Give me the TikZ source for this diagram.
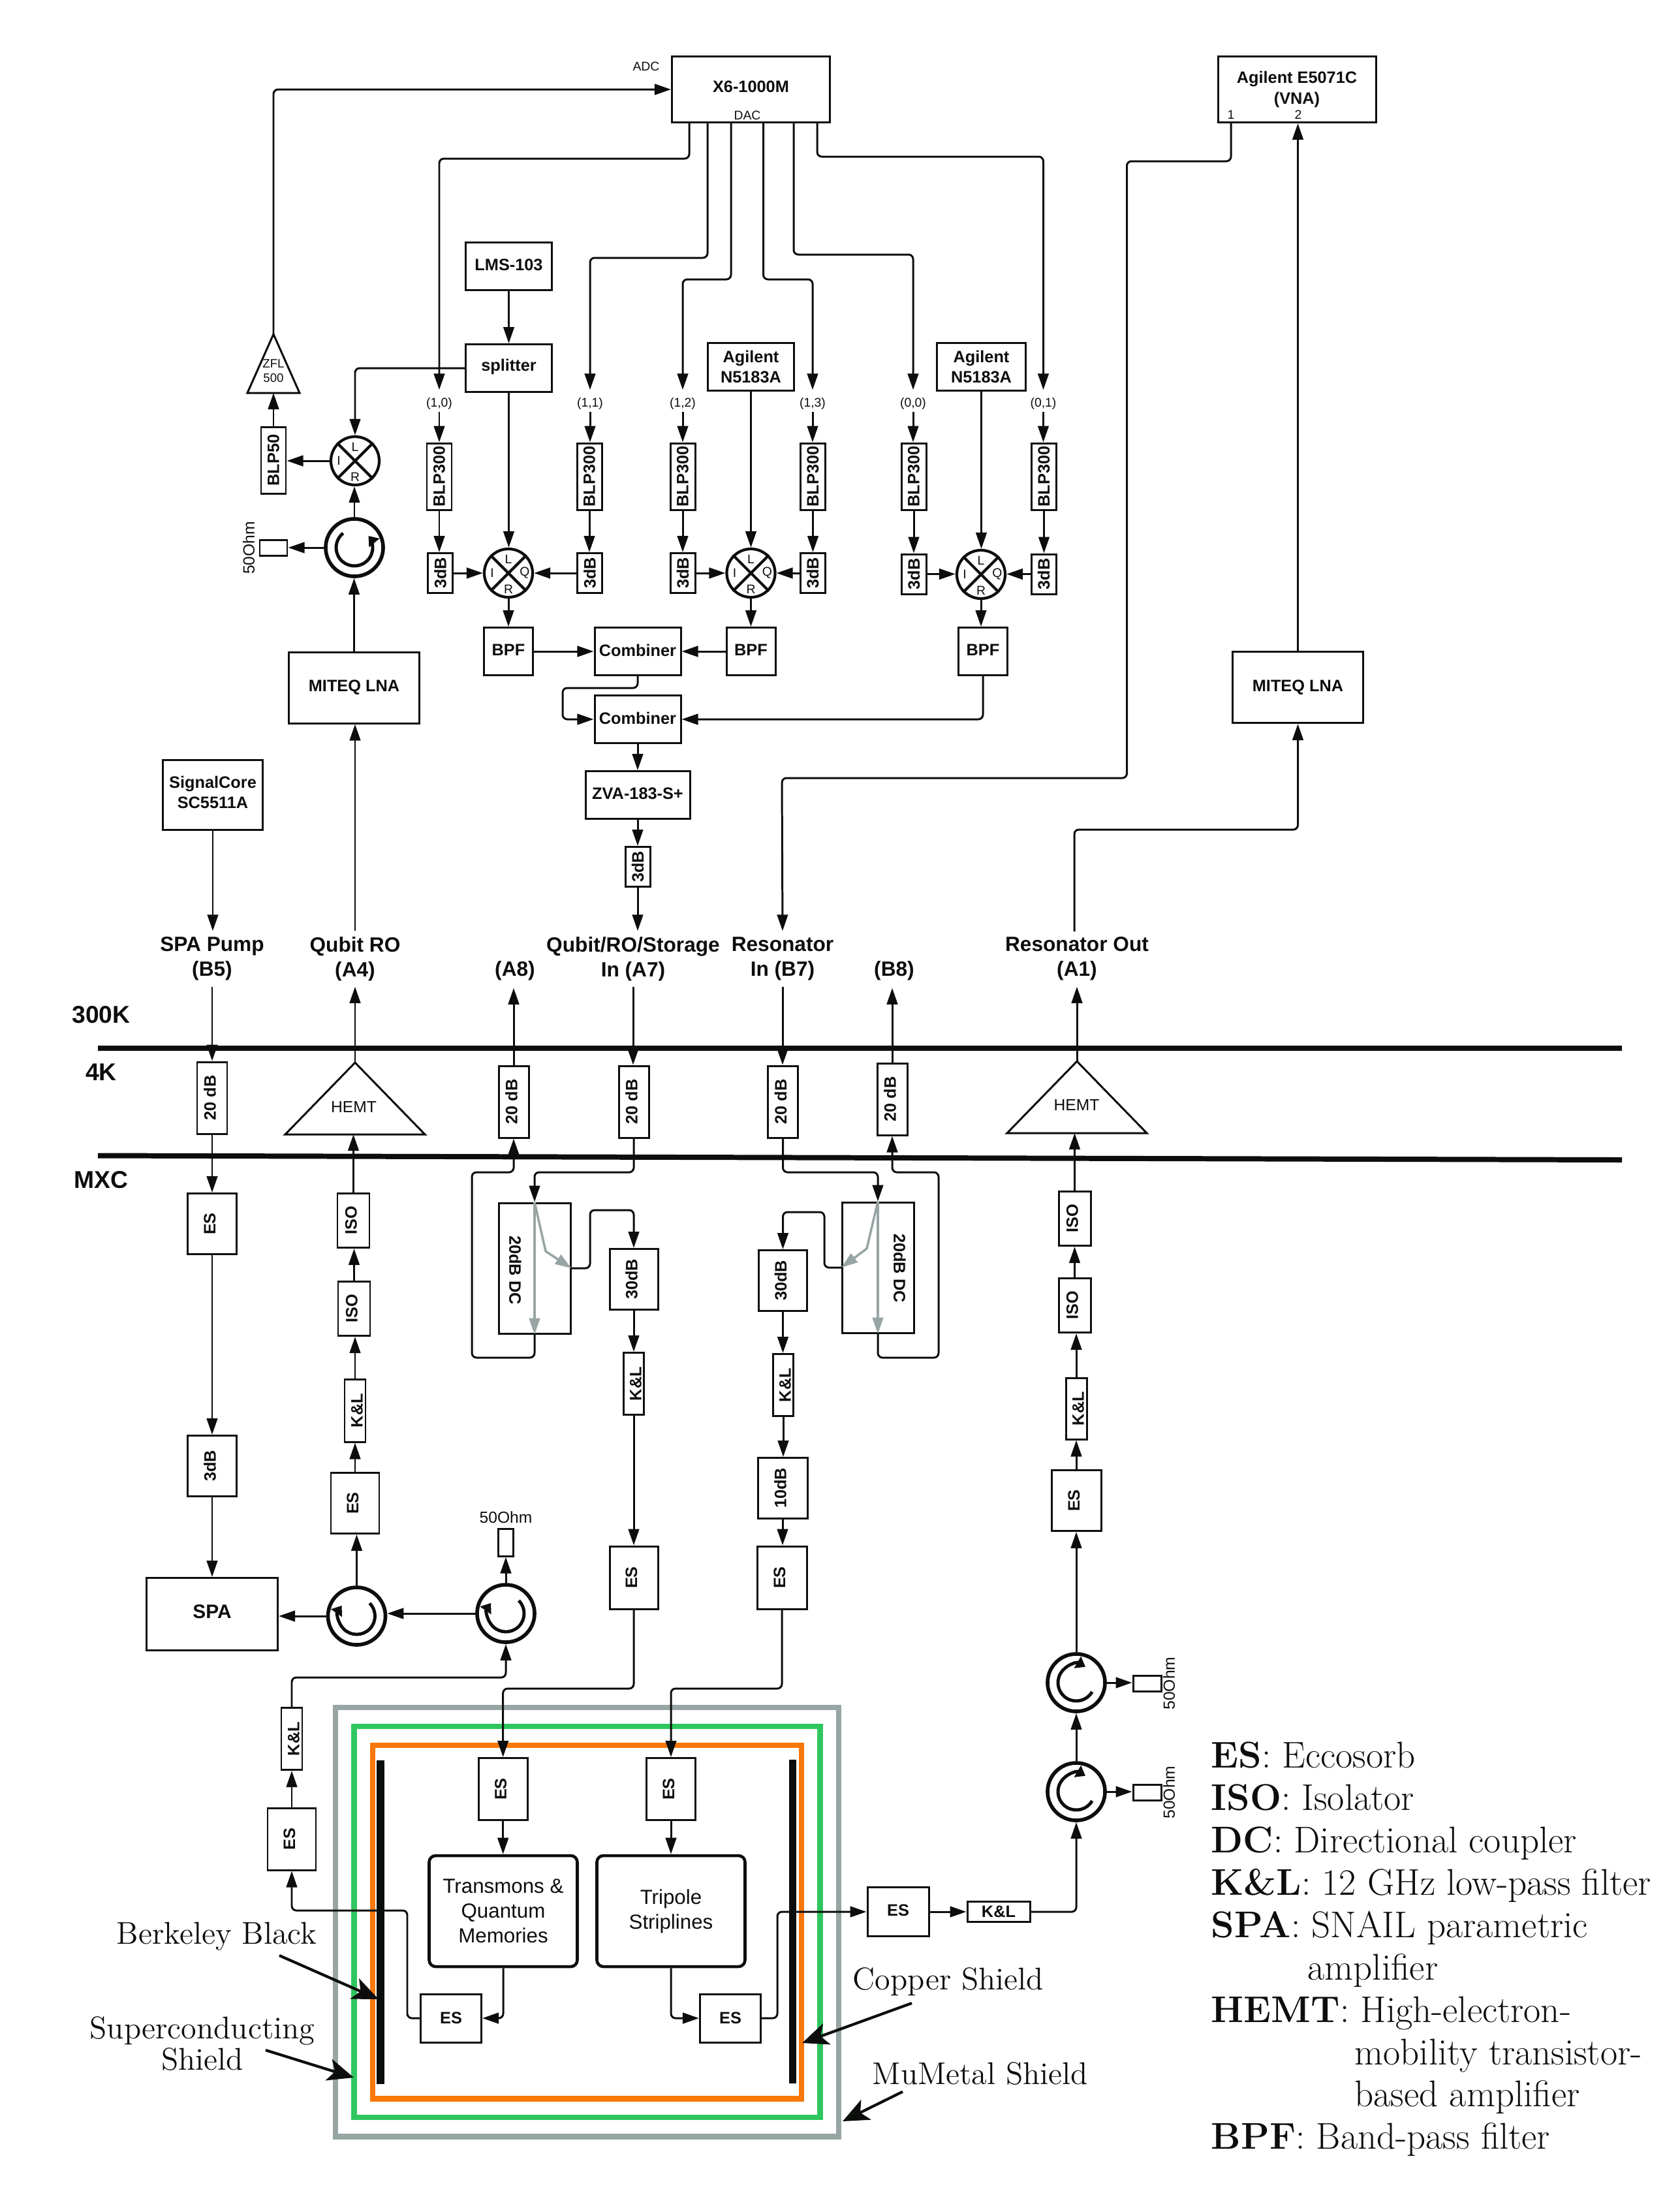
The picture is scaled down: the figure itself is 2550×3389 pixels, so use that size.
\documentclass[tikz,border=0pt]{standalone}
\usepackage{fontspec}
\usepackage{graphicx}
\usetikzlibrary{arrows.meta}
\newfontfamily\libsf{Liberation Sans}
\definecolor{ink}{HTML}{0C0E0C}
\definecolor{shieldgray}{HTML}{97A5A4}
\definecolor{shieldgreen}{HTML}{2FC65F}
\definecolor{shieldorange}{HTML}{F9780A}
\tikzset{
  x=0.01cm, y=-0.01cm,
  sz/.style n args={2}{minimum width=#1*0.01cm, minimum height=#2*0.01cm},
  box/.style={draw=ink, line width=0.85pt, inner sep=0pt, text=ink,
    font=\fontsize{7.2}{8.9}\selectfont\libsf\bfseries, align=center},
  boxlabel/.style={inner sep=0pt, text=ink, font=\fontsize{7.2}{8.9}\selectfont\libsf\bfseries},
  bigbox/.style={box, font=\fontsize{8.5}{10}\selectfont\libsf\bfseries},
  device/.style={draw=ink, line width=1.3pt, rounded corners=0.1cm, inner sep=0pt, text=ink,
    font=\fontsize{8.9}{10.8}\selectfont\libsf, align=center},
  tag/.style={inner sep=0pt, text=ink, font=\fontsize{5.5}{6.4}\selectfont\libsf, align=center},
  mid/.style={inner sep=0pt, text=ink, font=\fontsize{7}{8.5}\selectfont\libsf},
  linelabel/.style={inner sep=0pt, text=ink, align=center,
    font=\fontsize{9}{10.7}\selectfont\libsf\bfseries},
  stage/.style={inner sep=0pt, text=ink, font=\fontsize{10.6}{12}\selectfont\libsf\bfseries},
  note/.style={inner sep=0pt, text=ink, align=center, font=\fontsize{13.7}{13.7}\selectfont},
  legend/.style={inner sep=0pt, anchor=base west, text=ink, font=\fontsize{16.2}{18}\selectfont},
  wire/.style={draw=ink, line width=0.85pt},
  arr/.style={wire, -{Triangle[length=0.25cm, width=0.165cm]}},
  turn/.style={rounded corners=0.07cm},
  coupled/.style={draw=shieldgray, line width=1pt, -{Triangle[length=0.25cm, width=0.165cm]}},
  tri/.style={draw=ink, line width=0.85pt, line join=miter},
  mixer/.style={circle, draw=ink, line width=1.2pt, minimum size=0.74cm, inner sep=0pt},
  mixstroke/.style={draw=ink, line width=1.2pt},
  circulator/.style={circle, draw=ink, line width=1.6pt, minimum size=0.88cm, inner sep=0pt},
  swirl/.style={draw=ink, line width=1.4pt, -{Triangle[length=0.14cm, width=0.2cm]}},
  rail/.style={draw=ink, line width=2.27pt},
  shield/.style={line width=2.3pt, line join=miter},
  absorber/.style={draw=ink, line width=3.2pt},
  pointer/.style={draw=ink, line width=1.2pt,
    -{Stealth[length=0.4cm, width=0.34cm, inset=0.1cm]}}
}
% straight links that keep the source's line and stop on the target's edge
\newcommand\lnkD[2]{\draw[arr] (#1.south) -- (#1.south |- #2.north);}
\newcommand\lnkU[2]{\draw[arr] (#1.north) -- (#1.north |- #2.south);}
\newcommand\lnkR[2]{\draw[arr] (#1.east) -- (#1.east -| #2.west);}
\newcommand\lnkL[2]{\draw[arr] (#1.west) -- (#1.west -| #2.east);}
% sideways box text, nudged left or right of the box centre
\newcommand\vlf[1]{\mbox{\rotatebox{90}{#1}\kern0.07cm}}
\newcommand\vrg[1]{\mbox{\kern0.06cm\rotatebox{90}{#1}}}
% added depth lifts a label inside its box
\newcommand\lift[1]{\rule[-#1]{0pt}{0pt}}
% mixer: name, x, y, then the optional Q port label
\newcommand\mixerat[4]{%
  \node[mixer] (#1) at (#2,#3) {};
  \draw[mixstroke] (#1.north west) -- (#1.south east);
  \draw[mixstroke] (#1.north east) -- (#1.south west);
  \node[tag] (#1L) at (#2,#3-21) {L};
  \node[tag] (#1I) at (#2-25,#3) {I};
  \node[tag] (#1R) at (#2,#3+25) {R};
  \node[tag] (#1Q) at (#2+25,#3) {#4};
}
% circulator: name, x, y, start and end angle of the inner arrow
\newcommand\circat[5]{%
  \node[circulator] (#1) at (#2,#3) {};
  \draw[swirl] (#1.center) ++(#4:0.28cm) arc[start angle=#4, end angle=#5, radius=0.28cm];
}
% amplifier triangle: name, apex x, apex y, half width, height
\newcommand\ampat[5]{%
  \coordinate (#1top) at (#2,#3);
  \coordinate (#1base) at (#2,#3+#5);
  \draw[tri] (#2,#3) -- (#2+#4,#3+#5) -- (#2-#4,#3+#5) -- cycle;
}
\begin{document}
\begin{tikzpicture}
\path[use as bounding box, fill=white] (0,0) rectangle (2550,3389);

% --- room temperature instruments ---
\node[box, sz={242}{101}] (x6) at (1150.5,137) {X6-1000M\lift{0.08cm}};
\node[tag] (adc) at (990,102) {ADC};
\node[tag] (dac) at (1145,177) {DAC};
\node[box, sz={242}{101}] (vna) at (1987,137) {Agilent E5071C\\(VNA)};
\node[tag] (vnaa) at (1886,176) {1};
\node[tag] (vnab) at (1989,176) {2};
\coordinate (p10) at (1056,189);
\coordinate (p11) at (1084,189);
\coordinate (p12) at (1120,189);
\coordinate (p13) at (1169.5,189);
\coordinate (p00) at (1216,189);
\coordinate (p01) at (1252,189);
\coordinate (vna1) at (1886,189);

\node[box, sz={132}{73}] (lms) at (779.5,408) {LMS-103\lift{0.04cm}};
\node[box, sz={132}{73}] (split) at (779.5,564) {splitter\lift{0.09cm}};
\node[box, sz={132}{73}] (agi1) at (1150.5,562) {Agilent\\N5183A};
\node[box, sz={136}{73}] (agi2) at (1503.5,562) {Agilent\\N5183A};

% --- channel labels ---
\foreach \n/\x/\t in {lab10/673/{(1,0)},lab11/904/{(1,1)},lab12/1046/{(1,2)},lab13/1245/{(1,3)},lab00/1399/{(0,0)},lab01/1598.5/{(0,1)}}
  \node[tag, minimum height=0.32cm] (\n) at (\x,614) {\rule{0pt}{6.3pt}\t};

% --- baseband filters and attenuators ---
\foreach \n/\x in {bl10/673,bl11/903,bl12/1046,bl13/1245.5,bl00/1400,bl01/1599.5}
  \node[box, sz={38}{102}] (\n) at (\x,730) {\rotatebox{90}{BLP300}};
\foreach \n/\x/\y in {d10/674.5/878,d11/903.5/878,d12/1046/878,d13/1245/878,d00/1400/879.5,d01/1599/879.5}
  \node[box, sz={38}{61}] (\n) at (\x,\y) {\rotatebox{90}{3dB}};

\mixerat{mx1}{779}{878}{Q}
\mixerat{mx2}{1150.5}{878}{Q}
\mixerat{mx3}{1503}{880}{Q}

\node[box, sz={75}{73}] (bpf1) at (779,998) {BPF\lift{0.04cm}};
\node[box, sz={75}{73}] (bpf2) at (1150.5,998) {BPF\lift{0.04cm}};
\node[box, sz={75}{73}] (bpf3) at (1506,998) {BPF\lift{0.04cm}};
\node[box, sz={132}{73}] (comb1) at (977,998) {Combiner\lift{0.04cm}};
\node[box, sz={132}{73}] (comb2) at (977,1102) {Combiner\lift{0.04cm}};
\node[box, sz={160}{73}] (zva) at (977,1218) {ZVA-183-S+\lift{0.04cm}};
\node[box, sz={38}{61}] (d20) at (977,1328) {\rotatebox{90}{3dB}};

% --- qubit readout chain at room temperature ---
\ampat{zfl}{419}{512}{40}{90}
\node[tag, font=\fontsize{5.3}{6.4}\selectfont\libsf] (zflt) at (419,568) {ZFL\\500};
\node[box, sz={38}{102}] (b50) at (419,705) {\rotatebox{90}{BLP50}};
\mixerat{mx0}{544}{706}{}
\circat{c0}{543}{839}{128}{400}
\node[draw=ink, line width=0.85pt, sz={42}{17}] (t0) at (419,839.5) {};
\node[mid] (t0t) at (381,839.5) {\rotatebox{90}{50Ohm}};
\node[box, sz={200}{109}] (mitel) at (542.5,1053.5) {MITEQ LNA};
\node[box, sz={200}{109}] (miter) at (1988.5,1053) {MITEQ LNA};
\node[box, sz={153}{107}] (sig) at (326,1218) {SignalCore\\SC5511A\lift{0.08cm}};

% --- fridge port labels ---
\node[linelabel, minimum height=0.84cm] (lb5) at (325,1469) {SPA Pump\\(B5)};
\node[linelabel, minimum height=0.84cm] (la4) at (544,1469) {Qubit RO\\(A4)};
\node[linelabel, minimum height=0.52cm] (la8) at (789,1487) {(A8)};
\node[linelabel, minimum height=0.84cm] (la7) at (970,1469) {Qubit/RO/Storage\\In (A7)};
\node[linelabel, minimum height=0.84cm] (lb7) at (1199,1469) {Resonator\\In (B7)};
\node[linelabel, minimum height=0.52cm] (lb8) at (1370,1487) {(B8)};
\node[linelabel, minimum height=0.84cm] (la1) at (1650,1469) {Resonator Out\\(A1)};
\coordinate (la1out) at (1646,1427);

\node[stage] (t300) at (155,1555) {300K};
\node[stage] (t4) at (155,1643) {4K};
\node[stage] (tmxc) at (155,1808) {MXC};
\coordinate (r1a) at (150,1605.5);
\coordinate (r1b) at (2485,1605.5);
\coordinate (r2a) at (150,1770.5);
\coordinate (r2b) at (2485,1777);

% --- 4K stage ---
\node[box, sz={46}{110}] (at5) at (325,1682) {\vlf{20 dB}};
\ampat{he1}{544}{1628}{107}{110}
\node[mid] (he1t) at (542,1696) {HEMT};
\node[box, sz={46}{110}] (at8) at (787,1688) {\vlf{20 dB}};
\node[box, sz={46}{110}] (at7) at (971,1688) {\vlf{20 dB}};
\node[box, sz={46}{110}] (atb7) at (1199.5,1688) {\vlf{20 dB}};
\node[box, sz={46}{110}] (atb8) at (1367,1684) {\vlf{20 dB}};
\ampat{he2}{1650}{1626}{107}{110}
\node[mid] (he2t) at (1649.5,1693) {HEMT};

% --- pump line and SPA ---
\node[box, sz={75}{93}] (es1) at (325,1875) {\vlf{ES}};
\node[box, sz={75}{93}] (d3) at (325,2246) {\vlf{3dB}};
\node[bigbox, sz={201}{111}] (spa) at (325,2473) {SPA\lift{0.08cm}};

% --- qubit readout output chain ---
\node[box, sz={49}{83}] (isoa) at (541.5,1870) {\vlf{ISO}};
\node[box, sz={49}{83}] (isob) at (542.5,2005) {\vlf{ISO}};
\node[box, sz={32}{96}] (klq) at (544,2161) {\vrg{K\&L}};
\node[box, sz={74}{93}] (esq) at (544,2303) {\vlf{ES}};
\circat{c1}{546.5}{2476}{45}{-215}
\circat{c2}{775}{2472}{45}{-215}
\node[draw=ink, line width=0.85pt, sz={18}{42}] (t2) at (775,2363) {};
\node[mid] (t2t) at (775,2324.5) {50Ohm};

% --- directional couplers and input lines ---
\node[box, sz={110}{200}] (dc1) at (819,1943) {};
\node[boxlabel] (dc1t) at (789.4,1946) {\rotatebox{-90}{20dB DC}};
\coordinate (dc1c) at (875.5,1943);
\node[box, sz={110}{200}] (dc2) at (1345,1942) {};
\node[boxlabel] (dc2t) at (1378.4,1943) {\rotatebox{-90}{20dB DC}};
\coordinate (dc2c) at (1289,1942);
\node[box, sz={74}{93}] (a30) at (971,1960) {\vlf{30dB}};
\node[box, sz={31}{95}] (kl7) at (971,2120) {\vrg{K\&L}};
\node[box, sz={74}{96}] (es7) at (971,2417) {\vlf{ES}};
\node[box, sz={74}{93}] (b30) at (1199.5,1962) {\vlf{30dB}};
\node[box, sz={31}{95}] (kl8) at (1200,2122) {\vrg{K\&L}};
\node[box, sz={76}{93}] (d10b) at (1199,2280) {\vlf{10dB}};
\node[box, sz={76}{96}] (es8) at (1198,2417) {\vlf{ES}};

% --- nested shields ---
\draw[shield, draw=shieldgray] (514,2616) rectangle (1285,3273.5);
\draw[shield, draw=shieldgreen] (542.5,2645) rectangle (1256.5,3244);
\draw[shield, draw=shieldorange] (571,2674) rectangle (1228,3215.5);
\draw[absorber] (583,2697) -- (583,3193);
\draw[absorber] (1214.5,2696) -- (1214.5,3192);

% --- devices inside the shields ---
\node[box, sz={75}{95}] (esi1) at (770.7,2741) {\vlf{ES}};
\node[box, sz={75}{95}] (esi2) at (1028,2741) {\vlf{ES}};
\node[device, sz={227}{170}] (trans) at (771,2928) {Transmons \&\\Quantum\\Memories};
\node[device, sz={227}{170}] (strip) at (1028,2928) {Tripole\\Striplines};
\node[box, sz={93}{74}] (eso1) at (691,3092) {ES};
\node[box, sz={93}{74}] (eso2) at (1119,3092) {ES};
\node[box, sz={74}{95}] (esl) at (447,2817.5) {\vlf{ES}};
\node[box, sz={32}{95}] (kll) at (447,2664) {\vrg{K\&L}};

% --- resonator output chain ---
\node[box, sz={94}{75}] (esr1) at (1376,2929) {ES\lift{0.04cm}};
\node[box, sz={96}{31}] (klr) at (1530,2929) {K\&L};
\circat{c4}{1649}{2745}{-30}{-300}
\circat{c3}{1649}{2578}{-30}{-300}
\node[draw=ink, line width=0.85pt, sz={43}{18}] (t4e) at (1757.5,2746.5) {};
\node[draw=ink, line width=0.85pt, sz={43}{18}] (t3e) at (1757.5,2579.5) {};
\node[mid] (t3t) at (1791,2579) {\rotatebox{90}{50Ohm}};
\node[mid] (t4t) at (1791,2746) {\rotatebox{90}{50Ohm}};
\node[box, sz={76}{93}] (esr2) at (1649,2299) {\vlf{ES}};
\node[box, sz={32}{94}] (klr2) at (1649,2158) {\vrg{K\&L}};
\node[box, sz={49}{83}] (isoc) at (1646.5,2000) {\vlf{ISO}};
\node[box, sz={49}{83}] (isod) at (1646.5,1867) {\vlf{ISO}};

% --- stage rails ---
\draw[rail] (r1a) -- (r1b);
\draw[rail] (r2a) -- (r2b);

% --- room temperature wiring ---
\draw[arr, turn] (zfltop) -- (419,137) -- (x6.west);
\draw[arr, turn] (p10) -- (1056,243) -- (673,243) -- (lab10.north);
\draw[arr, turn] (p11) -- (1084,395) -- (904,395) -- (lab11.north);
\draw[arr, turn] (p12) -- (1120,428) -- (1046,428) -- (lab12.north);
\draw[arr, turn] (p13) -- (1169.5,428) -- (1245,428) -- (lab13.north);
\draw[arr, turn] (p00) -- (1216,390) -- (1399,390) -- (lab00.north);
\draw[arr, turn] (p01) -- (1252,240) -- (1598.5,240) -- (lab01.north);
\foreach \a/\b/\c in {lab10/bl10/d10,lab11/bl11/d11,lab12/bl12/d12,lab13/bl13/d13,lab00/bl00/d00,lab01/bl01/d01} {
  \lnkD{\a}{\b}
  \lnkD{\b}{\c}
}
\lnkR{d10}{mx1} \lnkL{d11}{mx1}
\lnkR{d12}{mx2} \lnkL{d13}{mx2}
\lnkR{d00}{mx3} \lnkL{d01}{mx3}
\lnkD{lms}{split}
\lnkD{split}{mx1}
\lnkD{agi1}{mx2}
\lnkD{agi2}{mx3}
\lnkD{mx1}{bpf1} \lnkD{mx2}{bpf2} \lnkD{mx3}{bpf3}
\lnkR{bpf1}{comb1} \lnkL{bpf2}{comb1}
\draw[arr, turn] (comb1.south) -- (977,1054) -- (862,1054) -- (862,1102) -- (comb2.west);
\draw[arr, turn] (bpf3.south) -- (1506,1102) -- (comb2.east);
\lnkD{comb2}{zva} \lnkD{zva}{d20} \lnkD{d20}{la7}
\draw[arr, turn] (split.west) -- (544,564) -- (mx0.north);
\lnkL{mx0}{b50}
\draw[arr] (b50.north) -- (zflbase);
\lnkU{c0}{mx0}
\lnkL{c0}{t0}
\lnkU{mitel}{c0}
\lnkU{la4}{mitel}
\lnkD{sig}{lb5}
\draw[arr, turn] (vna1) -- (1886,247) -- (1726.5,247) -- (1726.5,1192) -- (1198,1192) -- (lb7.north);
\draw[arr, turn] (la1out) -- (1646,1271) -- (1988.5,1271) -- (miter.south);
\lnkU{miter}{vna}

% --- fridge wiring, left side ---
\lnkD{lb5}{at5} \lnkD{at5}{es1} \lnkD{es1}{d3} \lnkD{d3}{spa}
\draw[arr] (he1top) -- (he1top |- la4.south);
\draw[arr] (isoa.north) -- (isoa.north |- he1base);
\lnkU{isob}{isoa} \lnkU{klq}{isob} \lnkU{esq}{klq} \lnkU{c1}{esq}
\lnkL{c1}{spa} \lnkL{c2}{c1} \lnkU{c2}{t2}

% --- fridge wiring, couplers ---
\lnkU{at8}{la8}
\draw[arr, turn] (dc1.south) -- (819,2080) -- (723,2080) -- (723,1796) -- (787,1796) -- (at8.south);
\lnkD{la7}{at7}
\draw[arr, turn] (at7.south) -- (971,1796) -- (819,1796) -- (dc1.north);
\draw[coupled] (dc1.north) -- (dc1.south);
\draw[coupled] (dc1.north) -- (836,1917) -- (dc1c);
\draw[arr, turn] (dc1c) -- (904,1943) -- (904,1854) -- (971,1854) -- (a30.north);
\lnkD{a30}{kl7} \lnkD{kl7}{es7}

\lnkD{lb7}{atb7}
\lnkU{atb8}{lb8}
\draw[arr, turn] (atb7.south) -- (1199.5,1796) -- (1345,1796) -- (dc2.north);
\draw[arr, turn] (dc2.south) -- (1345,2080) -- (1438,2080) -- (1438,1796) -- (1367,1796) -- (atb8.south);
\draw[coupled] (dc2.north) -- (dc2.south);
\draw[coupled] (dc2.north) -- (1328,1913) -- (dc2c);
\draw[arr, turn] (dc2c) -- (1263,1942) -- (1263,1857) -- (1199.5,1857) -- (b30.north);
\lnkD{b30}{kl8} \lnkD{kl8}{d10b} \lnkD{d10b}{es8}

% --- fridge wiring, sample package ---
\draw[arr, turn] (es7.south) -- (971,2587) -- (770.7,2587) -- (esi1.north);
\draw[arr, turn] (es8.south) -- (1198,2587) -- (1028,2587) -- (esi2.north);
\lnkD{esi1}{trans} \lnkD{esi2}{strip}
\draw[arr, turn] (trans.south) -- (771,3092) -- (eso1.east);
\draw[arr, turn] (strip.south) -- (1028,3092) -- (eso2.west);
\draw[arr, turn] (eso1.west) -- (624,3092) -- (624,2927) -- (447,2927) -- (esl.south);
\lnkU{esl}{kll}
\draw[arr, turn] (kll.north) -- (447,2570) -- (775,2570) -- (c2.south);
\draw[arr, turn] (eso2.east) -- (1191,3092) -- (1191,2929) -- (esr1.west);

% --- fridge wiring, resonator output ---
\lnkR{esr1}{klr}
\draw[arr, turn] (klr.east) -- (1649,2929) -- (c4.south);
\lnkU{c4}{c3} \lnkU{c3}{esr2} \lnkU{esr2}{klr2} \lnkU{klr2}{isoc} \lnkU{isoc}{isod}
\lnkR{c3}{t3e} \lnkR{c4}{t4e}
\draw[arr] (isod.north) -- (isod.north |- he2base);
\draw[arr] (he2top) -- (he2top |- la1.south);

% --- shield annotations ---
\node[note] (nbb) at (332,2967) {Berkeley Black};
\node[note] (nsc) at (310,3131) {Superconducting\\Shield};
\node[note] (ncu) at (1453,3036.5) {Copper Shield};
\node[note] (nmu) at (1502,3177.5) {MuMetal Shield};
\coordinate (ibb) at (580,3063);
\coordinate (isc) at (542,3183);
\coordinate (icu) at (1229,3130);
\coordinate (imu) at (1291,3250);
\draw[pointer] (428,2996) -- (ibb);
\draw[pointer] (407,3141) -- (isc);
\draw[pointer] (1397,3069) -- (icu);
\draw[pointer] (1383,3204.6) -- (imu);

% --- abbreviations ---
\node[legend] (lg1) at (1855,2708.7) {\textbf{ES}: Eccosorb};
\node[legend] (lg2) at (1855,2773.6) {\textbf{ISO}: Isolator};
\node[legend] (lg3) at (1855,2838.5) {\textbf{DC}: Directional coupler};
\node[legend] (lg4) at (1855,2903.4) {\textbf{K\&L}: 12 GHz low-pass filter};
\node[legend] (lg5) at (1855,2968.3) {\textbf{SPA}: SNAIL parametric};
\node[legend] (lg6) at (2003,3033.2) {amplifier};
\node[legend] (lg7) at (1855,3098.1) {\textbf{HEMT}: High-electron-};
\node[legend] (lg8) at (2075,3163) {mobility transistor-};
\node[legend] (lg9) at (2075,3227.9) {based amplifier};
\node[legend] (lg10) at (1855,3292.8) {\textbf{BPF}: Band-pass filter};
\end{tikzpicture}
\end{document}
